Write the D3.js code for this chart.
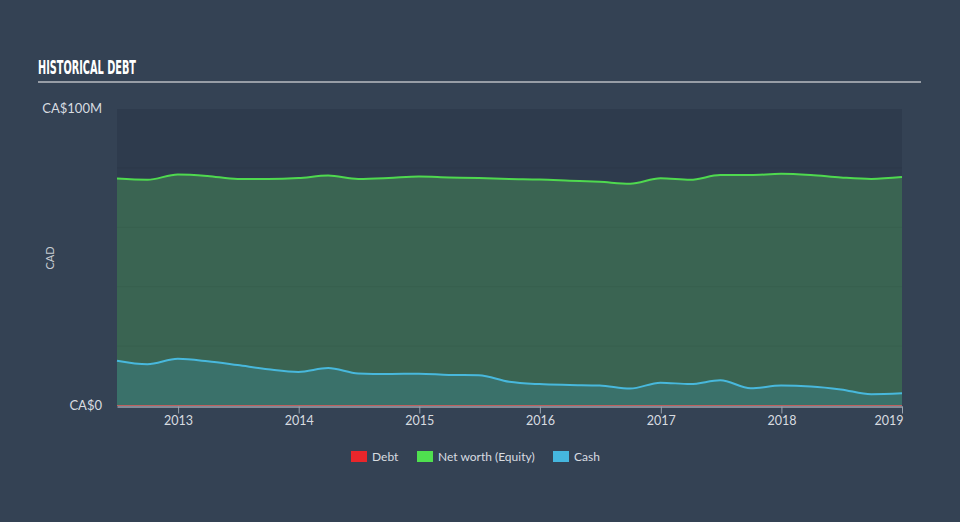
<!DOCTYPE html>
<html><head><meta charset="utf-8">
<script src="https://cdn.jsdelivr.net/npm/d3@7"></script>
<style>
html,body{margin:0;padding:0;background:#344254;}
svg{display:block;}
</style></head>
<body>
<svg id="chart" width="960" height="522"></svg>
<script>
// ---- data ----
const dates = ["2012-06-30","2012-09-30","2012-12-31","2013-03-31","2013-06-30","2013-09-30","2013-12-31",
 "2014-03-31","2014-06-30","2014-09-30","2014-12-31","2015-03-31","2015-06-30","2015-09-30","2015-12-31",
 "2016-03-31","2016-06-30","2016-09-30","2016-12-31","2017-03-31","2017-06-30","2017-09-30","2017-12-31",
 "2018-03-31","2018-06-30","2018-09-30","2019-01-01"];
const debt = [0,0,0,0,0,0,0,0,0,0,0,0,0,0,0,0,0,0,0,0,0,0,0,0,0,0,0];
const equity = [76.4,76.0,77.8,77.3,76.3,76.3,76.6,77.4,76.3,76.6,77.1,76.8,76.6,76.3,76.1,75.7,75.3,74.7,76.5,76.0,77.6,77.6,78.0,77.6,76.8,76.3,76.9];
const cash = [15.1,13.9,15.7,14.9,13.6,12.2,11.3,12.6,10.8,10.6,10.7,10.3,10.2,8.0,7.2,6.9,6.7,5.7,7.7,7.2,8.5,5.8,6.7,6.4,5.4,3.8,4.1];
const yTicks = [0, 100];
const yTickLabels = ["CA$0", "CA$100M"];
const gridValues = [20, 40, 60, 80];
const legendItems = ["Debt", "Net worth (Equity)", "Cash"];
const legendColors = ["#e8262b", "#4fe04f", "#45b6de"];

// ---- layout ----
const svg = d3.select("#chart");
const pLeft = 117, pRight = 902, pTop = 108.5, pBottom = 405.5;
const parse = d3.timeParse("%Y-%m-%d");
const D = dates.map(parse);

const x = d3.scaleTime().domain([D[0], D[D.length-1]]).range([pLeft, pRight]);
const y = d3.scaleLinear().domain([0, 100]).range([pBottom, pTop]);

// title
svg.append("text").attr("x", 38).attr("y", 74)
  .attr("font-family", "Liberation Sans Narrow, DejaVu Sans Condensed, sans-serif")
  .attr("font-weight", "bold").attr("font-size", 19).attr("fill", "#ffffff")
  .attr("textLength", 98).attr("lengthAdjust", "spacingAndGlyphs")
  .text("HISTORICAL DEBT");
svg.append("line").attr("x1", 38).attr("x2", 921).attr("y1", 82).attr("y2", 82)
  .attr("stroke", "#b8bcc2").attr("stroke-width", 1.5);

// plot background
svg.append("rect").attr("x", pLeft).attr("y", 109).attr("width", pRight-pLeft).attr("height", pBottom-109)
  .attr("fill", "#2e3b4d");

const area = (arr) => d3.area().x((d,i)=>x(D[i])).y0(y(0)).y1((d,i)=>y(arr[i])).curve(d3.curveMonotoneX);
const line = (arr) => d3.line().x((d,i)=>x(D[i])).y((d,i)=>y(arr[i])).curve(d3.curveMonotoneX);

svg.append("path").datum(equity).attr("d", area(equity)).attr("fill", "#3a6452");
svg.append("path").datum(cash).attr("d", area(cash)).attr("fill", "#3a716a");

// faint grid
svg.append("g").selectAll("line").data(gridValues).join("line")
  .attr("x1", pLeft).attr("x2", pRight).attr("y1", d=>y(d)).attr("y2", d=>y(d))
  .attr("stroke", "#000").attr("stroke-opacity", 0.05).attr("stroke-width", 1);

svg.append("path").datum(equity).attr("d", line(equity)).attr("fill", "none")
  .attr("stroke", "#4fd94f").attr("stroke-width", 2);
svg.append("path").datum(cash).attr("d", line(cash)).attr("fill", "none")
  .attr("stroke", "#48b8dc").attr("stroke-width", 2);
svg.append("path").datum(debt).attr("d", line(debt)).attr("fill", "none")
  .attr("stroke", "#e06060").attr("stroke-width", 1.2).attr("stroke-opacity", 0.8);

// x axis
const xAxis = d3.axisBottom(x).ticks(d3.timeYear.every(1)).tickFormat(d3.timeFormat("%Y"))
  .tickSize(7).tickSizeOuter(0);
const gx = svg.append("g").attr("transform", `translate(0,${pBottom+1})`).call(xAxis);
gx.select(".domain").attr("stroke", "#9aa3ae").attr("stroke-width", 1.5);
gx.selectAll(".tick line").attr("stroke", "#9aa3ae");
gx.selectAll(".tick text").attr("fill", "#d8dce0").attr("font-size", 12.5)
  .attr("font-family", "Lato, Open Sans, sans-serif").attr("dy", "0.9em").attr("y", 7);
// last label sits inside the plot's right edge
const tickTexts = gx.selectAll(".tick text").nodes();
d3.select(tickTexts[tickTexts.length-1]).attr("text-anchor", "end").attr("x", 1);

// y labels
svg.append("g").selectAll("text").data(yTicks).join("text")
  .attr("x", 102).attr("y", d=>y(d)).attr("dy", "0.35em").attr("text-anchor", "end")
  .attr("fill", "#d8dce0").attr("font-size", 13).attr("font-family", "Lato, Open Sans, sans-serif")
  .text((d,i)=>yTickLabels[i]);

svg.append("text").attr("transform", "translate(54,258) rotate(-90)").attr("text-anchor", "middle")
  .attr("fill", "#c8cdd3").attr("font-size", 11).attr("font-family", "Lato, Open Sans, sans-serif")
  .text("CAD");

// legend
const legX = [351, 417, 553];
const lg = svg.append("g");
legendItems.forEach((t,i)=>{
  lg.append("rect").attr("x", legX[i]).attr("y", 451).attr("width", 16).attr("height", 11).attr("fill", legendColors[i]);
  lg.append("text").attr("x", legX[i]+21).attr("y", 456.5).attr("dy", "0.35em")
    .attr("fill", "#d8dce0").attr("font-size", 12).attr("font-family", "Lato, Open Sans, sans-serif").text(t);
});
</script>
</body></html>
